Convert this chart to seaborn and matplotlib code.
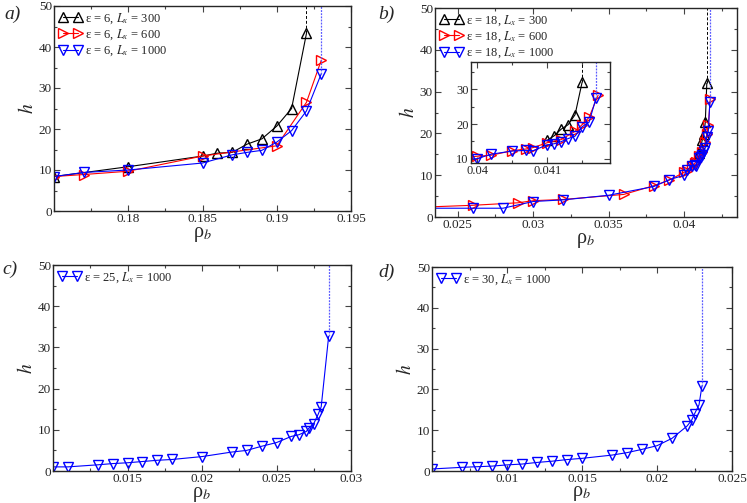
import numpy as np
import pandas as pd
import matplotlib
matplotlib.use("Agg")
import matplotlib.pyplot as plt
import seaborn as sns
from matplotlib.ticker import MultipleLocator, FuncFormatter

# panel a) eps = 6
a_rho_300 = [0.175, 0.180, 0.185, 0.186, 0.187, 0.188, 0.189, 0.190, 0.191, 0.192]
a_h_300 = [8.4, 10.8, 13.4, 14.1, 14.3, 16.3, 17.6, 20.7, 25.0, 43.3]
a_rho_600 = [0.175, 0.177, 0.180, 0.185, 0.190, 0.192, 0.193]
a_h_600 = [8.4, 8.9, 9.7, 13.4, 15.9, 26.5, 36.8]
a_rho_1000 = [0.175, 0.177, 0.180, 0.185, 0.187, 0.188, 0.189, 0.190, 0.191, 0.192, 0.193]
a_h_1000 = [8.4, 9.4, 10.0, 11.7, 13.7, 14.3, 14.8, 16.8, 19.6, 24.4, 33.5]

# panel b) eps = 18
b_rho_300 = [0.0410, 0.0411, 0.0412, 0.0413, 0.0414, 0.0415]
b_h_300 = [15.3, 16.6, 18.5, 19.8, 22.7, 32.0]
b_rho_600 = [0.020, 0.026, 0.029, 0.030, 0.032, 0.036, 0.038, 0.039, 0.0400, 0.0402,
             0.0405, 0.0407, 0.0408, 0.0410, 0.0412, 0.0414, 0.0415, 0.0416, 0.04173]
b_h_600 = [2.0, 2.8, 3.4, 3.9, 4.2, 5.4, 7.5, 8.8, 10.7, 11.0,
           12.3, 12.8, 13.2, 14.6, 15.5, 17.9, 19.8, 21.9, 28.3]
b_rho_1000 = [0.020, 0.026, 0.028, 0.030, 0.032, 0.035, 0.038, 0.039, 0.0400, 0.0402,
              0.0405, 0.0407, 0.0408, 0.0410, 0.0411, 0.0412, 0.0413, 0.0414, 0.0415,
              0.0416, 0.0417]
b_h_1000 = [2.1, 2.1, 2.1, 3.7, 4.1, 5.2, 7.3, 8.9, 10.0, 11.3,
            12.2, 12.4, 12.3, 14.0, 14.3, 14.9, 15.8, 16.5, 19.2,
            20.5, 27.5]

# panel c) eps = 25
c_rho = [0.010, 0.011, 0.013, 0.014, 0.015, 0.016, 0.017, 0.018, 0.020, 0.022, 0.023,
         0.024, 0.025, 0.026, 0.0265, 0.027, 0.0272, 0.0275, 0.0278, 0.028, 0.0285]
c_h = [1.0, 1.0, 1.5, 1.8, 2.0, 2.3, 2.6, 2.8, 3.5, 4.6, 5.0,
       6.0, 6.9, 8.4, 8.8, 9.6, 10.5, 11.5, 13.8, 15.6, 32.7]

# panel d) eps = 30
d_rho = [0.005, 0.007, 0.008, 0.009, 0.010, 0.011, 0.012, 0.013, 0.014, 0.015, 0.017,
         0.018, 0.019, 0.020, 0.021, 0.022, 0.0223, 0.0225, 0.0228, 0.023]
d_h = [0.5, 0.9, 1.05, 1.2, 1.5, 1.7, 2.1, 2.4, 2.8, 3.1, 3.9,
       4.5, 5.3, 6.2, 8.0, 11.0, 12.4, 14.0, 16.2, 20.9]

# 字体
sns.set_style("ticks")
plt.rcParams['font.family'] = ['Liberation Serif', 'DejaVu Serif']
plt.rcParams['mathtext.fontset'] = 'stix'
plt.rcParams['xtick.direction'] = 'in'
plt.rcParams['ytick.direction'] = 'in'
plt.rcParams['axes.linewidth'] = 1.0

W, H = 747, 503
fig = plt.figure(figsize=(W / 100, H / 100), dpi=100)


def add_ax(l, t, r, b):
    return fig.add_axes([l / W, 1 - b / H, (r - l) / W, (b - t) / H])


STYLE = {
    300: dict(color='black', marker='^'),
    600: dict(color='red', marker='>'),
    1000: dict(color='blue', marker='v'),
}


def draw(ax, rho, h, lx, label=None, ms=7.5):
    df = pd.DataFrame({'rho': rho, 'h': h})
    st = STYLE[lx]
    sns.lineplot(data=df, x='rho', y='h', ax=ax, sort=False, estimator=None,
                 color=st['color'], marker=st['marker'], markersize=ms,
                 markerfacecolor='none', markeredgecolor=st['color'],
                 markeredgewidth=1.0, linewidth=0.8, label=label)


def vline(ax, x, y0, lx):
    if lx == 300:
        ax.plot([x, x], [y0, 60], color='black', lw=0.7, ls=(0, (3, 2)))
    else:
        ax.plot([x, x], [y0, 60], color='#5a5aff', lw=0.9, ls=(0, (1.5, 1)))


def style_ax(ax, xlim, xticks, xminor, ylim=(0, 50), ymaj=10, ymin=5, fs=9.5):
    ax.set_xlim(*xlim)
    ax.set_ylim(*ylim)
    ax.set_xticks(xticks)
    ax.xaxis.set_minor_locator(MultipleLocator(xminor))
    ax.yaxis.set_major_locator(MultipleLocator(ymaj))
    ax.yaxis.set_minor_locator(MultipleLocator(ymin))
    ax.xaxis.set_major_formatter(FuncFormatter(lambda v, p: '%g' % round(v, 6)))
    ax.tick_params(which='both', top=True, right=True, direction='in', labelsize=fs,
                   width=0.8, color='#444444')
    ax.tick_params(which='major', length=4, pad=1.5)
    ax.tick_params(which='minor', length=2)
    for s in ax.spines.values():
        s.set_linewidth(1.0)
        s.set_visible(True)


def labels(ax, tag, tx, ty, xpad=0):
    ax.set_xlabel('ρ$_b$', fontsize=14.5, labelpad=xpad)
    ax.set_ylabel('$h$', fontsize=14, labelpad=1)
    fig.text(tx / W, 1 - ty / H, tag, fontsize=14, style='italic',
             ha='left', va='center')


def legend(ax):
    leg = ax.legend(loc='upper left', numpoints=2, frameon=False, fontsize=9,
                    handlelength=1.8, handletextpad=0.3, borderaxespad=0.2,
                    labelspacing=0.15, borderpad=0.2)
    return leg


# a)
ax = add_ax(54, 6, 351, 211)
draw(ax, a_rho_300, a_h_300, 300, 'ε = 6, $L_x$ = 300')
draw(ax, a_rho_600, a_h_600, 600, 'ε = 6, $L_x$ = 600')
draw(ax, a_rho_1000, a_h_1000, 1000, 'ε = 6, $L_x$ = 1000')
vline(ax, a_rho_300[-1], a_h_300[-1], 300)
vline(ax, a_rho_1000[-1], a_h_1000[-1], 1000)
style_ax(ax, (0.175, 0.195), [0.18, 0.185, 0.19, 0.195], 0.0025)
labels(ax, 'a)', 4, 14)
legend(ax)

# b)
ax = add_ax(435, 8, 737, 217)
draw(ax, b_rho_300, b_h_300, 300, 'ε = 18, $L_x$ = 300')
draw(ax, b_rho_600, b_h_600, 600, 'ε = 18, $L_x$ = 600')
draw(ax, b_rho_1000, b_h_1000, 1000, 'ε = 18, $L_x$ = 1000')
vline(ax, b_rho_300[-1], b_h_300[-1], 300)
vline(ax, b_rho_1000[-1], b_h_1000[-1], 1000)
style_ax(ax, (0.0235, 0.0435), [0.025, 0.03, 0.035, 0.04], 0.0025)
labels(ax, 'b)', 378, 14)
legend(ax)

# inset of b)
ins = add_ax(471, 62, 610, 163)
draw(ins, b_rho_300, b_h_300, 300)
draw(ins, b_rho_600, b_h_600, 600)
draw(ins, b_rho_1000, b_h_1000, 1000)
vline(ins, b_rho_300[-1], b_h_300[-1], 300)
vline(ins, b_rho_1000[-1], b_h_1000[-1], 1000)
style_ax(ins, (0.03991, 0.0419), [0.04, 0.041], 0.0005, ylim=(8.75, 37.9), fs=9)
ins.set_xlabel('')
ins.set_ylabel('')
if ins.get_legend():
    ins.get_legend().remove()

# c)
ax = add_ax(53, 265, 351, 471)
draw(ax, c_rho, c_h, 1000, 'ε = 25, $L_x$ = 1000')
vline(ax, c_rho[-1], c_h[-1], 1000)
style_ax(ax, (0.01, 0.03), [0.015, 0.02, 0.025, 0.03], 0.0025)
labels(ax, 'c)', 2, 269, xpad=0)
legend(ax)

# d)
ax = add_ax(432, 267, 732, 471)
draw(ax, d_rho, d_h, 1000, 'ε = 30, $L_x$ = 1000')
vline(ax, d_rho[-1], d_h[-1], 1000)
style_ax(ax, (0.005, 0.025), [0.01, 0.015, 0.02, 0.025], 0.0025)
labels(ax, 'd)', 378, 272, xpad=-0.5)
legend(ax)

fig.savefig('out.png', dpi=100)
